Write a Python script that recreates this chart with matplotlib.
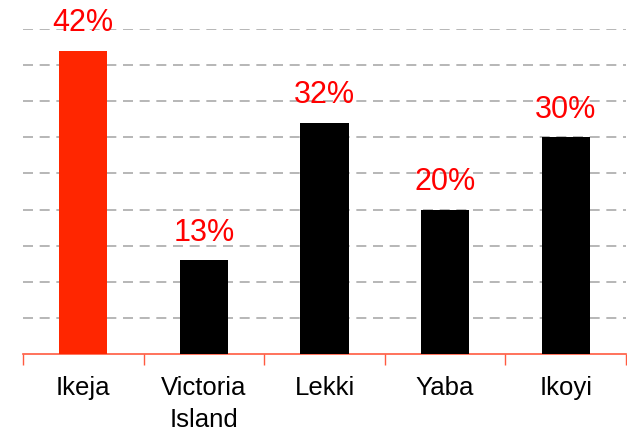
import matplotlib.pyplot as plt
import numpy as np

areas = ['Ikeja', 'Victoria\nIsland', 'Lekki', 'Yaba', 'Ikoyi']
shares = [42, 13, 32, 20, 30]
bar_colors = ['#ff2600', 'black', 'black', 'black', 'black']

plt.rcParams['font.family'] = ['Liberation Sans', 'DejaVu Sans']

fig = plt.figure(figsize=(6.27, 4.32), dpi=100)
ax = fig.add_axes([0.0367, 0.1806, 0.9617, 0.7523])

x = np.arange(len(areas))
ax.bar(x, shares, width=0.4, color=bar_colors, zorder=3)

for xi, v in zip(x, shares):
    ax.annotate(f'{v}%', (xi, v), xytext=(0, 14), textcoords='offset points',
                ha='center', va='baseline', color='red', fontsize=22,
                annotation_clip=False)

ax.set_xlim(-0.5, len(areas) - 0.5)
ax.set_ylim(0, 45)
ax.set_yticks(np.arange(5, 46, 5))
ax.set_yticklabels([])
ax.tick_params(axis='y', length=0)
ax.grid(axis='y', color='#aaaaaa', lw=1.2, ls=(0, (6, 4)), zorder=0)

# category boundaries as major ticks, names on minor ticks
ax.set_xticks(np.arange(-0.5, len(areas), 1))
ax.set_xticklabels([])
ax.set_xticks(x, minor=True)
ax.set_xticklabels(areas, minor=True, fontsize=18.5, linespacing=1.4)
ax.tick_params(axis='x', which='major', length=8, color='#ff5a40', width=1)
ax.tick_params(axis='x', which='minor', length=0, pad=16)

for s in ['top', 'left', 'right']:
    ax.spines[s].set_visible(False)
ax.spines['bottom'].set_color('#ff5a40')
ax.spines['bottom'].set_linewidth(1.2)

fig.savefig('out.png', dpi=100)
